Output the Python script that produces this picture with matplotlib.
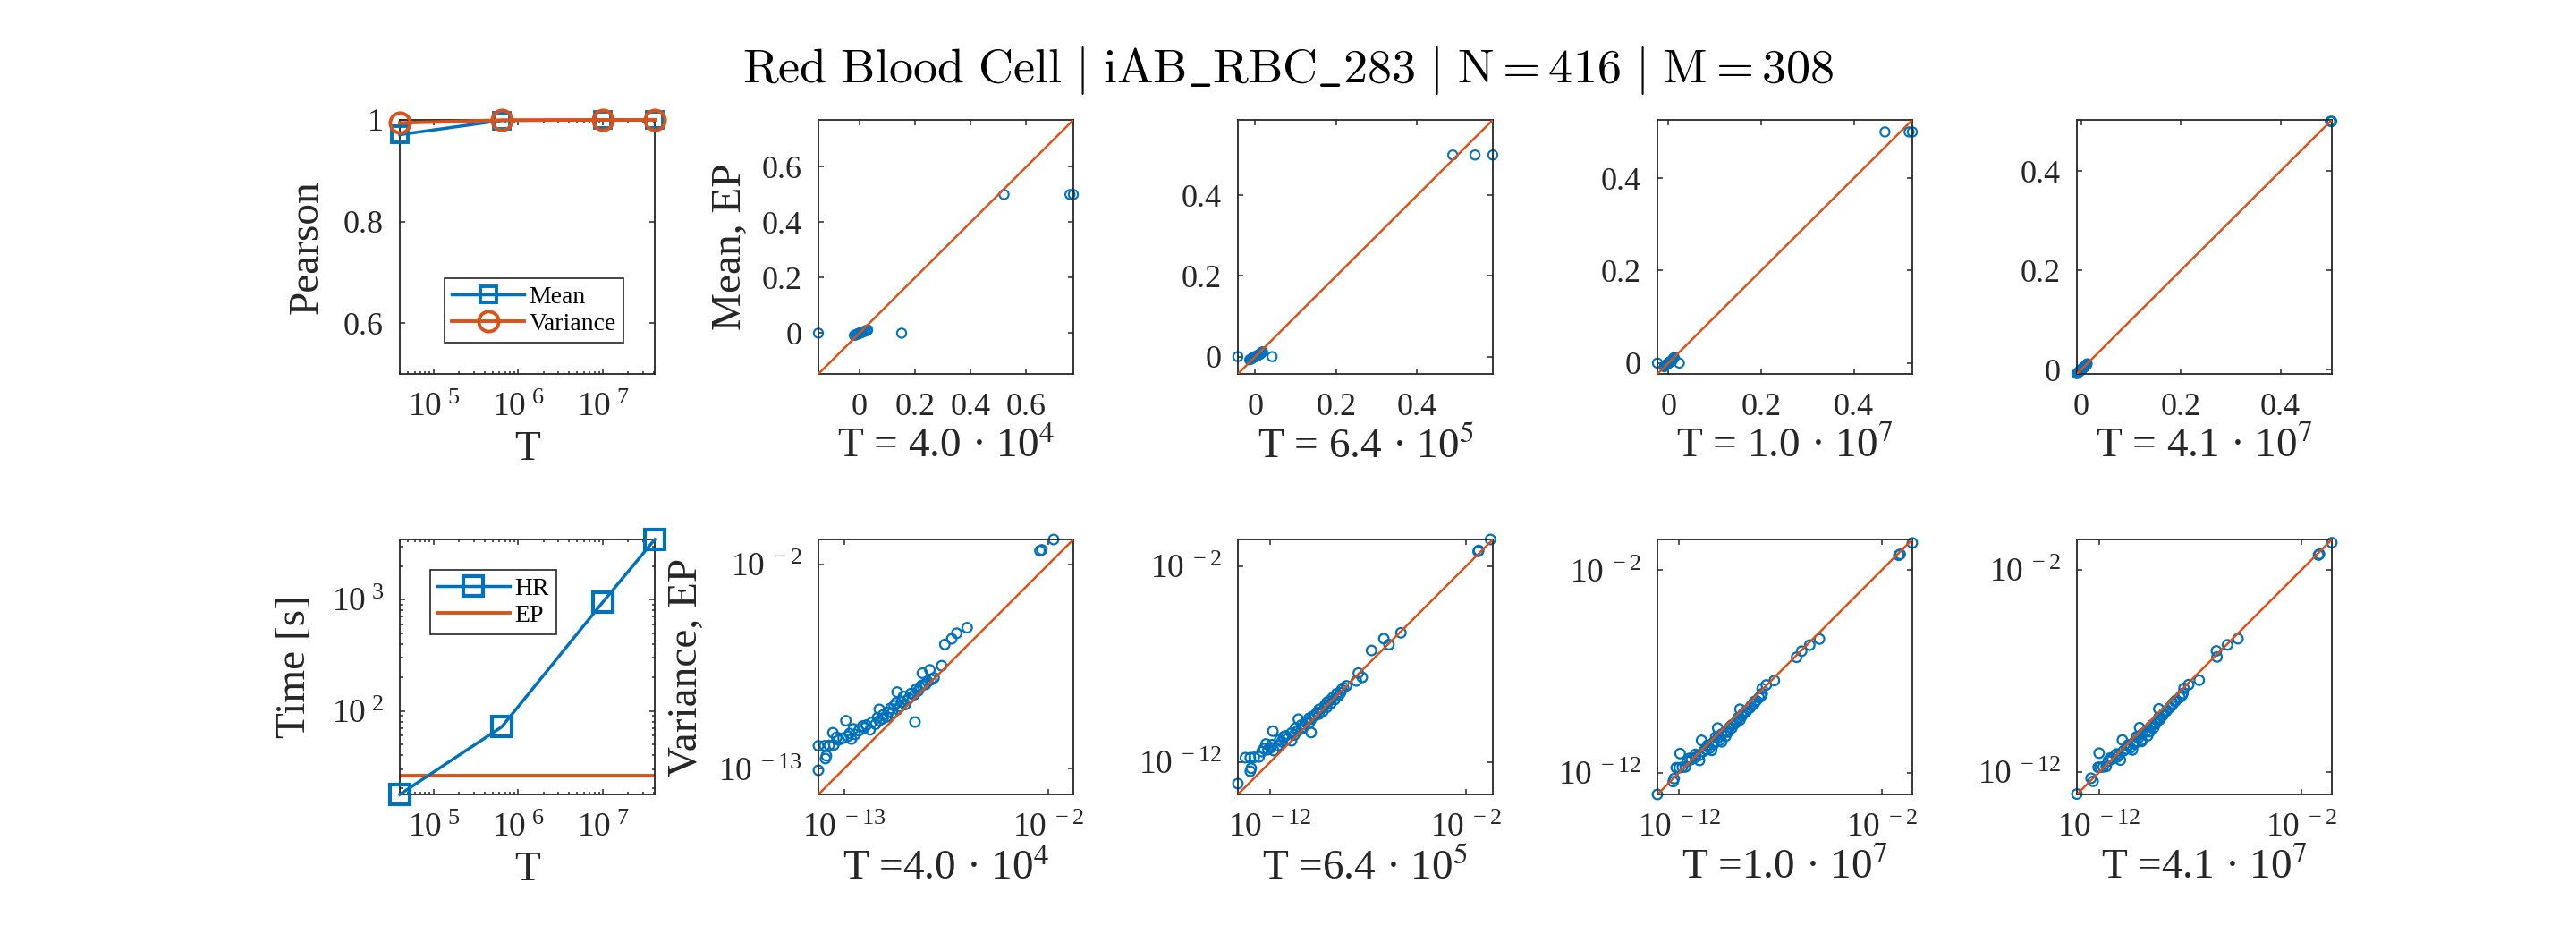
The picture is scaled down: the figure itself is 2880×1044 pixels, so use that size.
import numpy as np
import matplotlib
matplotlib.use('Agg')
import matplotlib.pyplot as plt
from matplotlib.ticker import FixedLocator, NullLocator, LogLocator, FuncFormatter, NullFormatter

plt.rcParams['font.family'] = ['Liberation Serif', 'DejaVu Serif']
plt.rcParams['mathtext.fontset'] = 'stix'
plt.rcParams['axes.unicode_minus'] = False

BLUE = '#0072BD'
ORANGE = '#D95319'
DARK = '#262626'

# sample sizes used by the hit-and-run sampler
T = [4.0e4, 6.4e5, 1.0e7, 4.1e7]

# Pearson correlation HR vs EP
pearson_mean = [0.971, 0.999, 1.0, 1.0]
pearson_var = [0.994, 0.9995, 1.0, 1.0]

# running times [s]
time_hr = [17.7, 71.7, 951.0, 3475.0]
time_ep = 25.9

# means: EP (y) and HR for every T (x)
ep_mean = [0.5, 0.5, 0.5, 0.0, 0.0, 0.0, 0.002, -0.002, 0.004, -0.004,
           0.006, -0.006, 0.008, 0.01, 0.012, -0.008, 0.003, -0.003, 0.0]
hr_mean_40k = [0.52, 0.757, 0.769, -0.147, 0.152, 0.0, 0.006, -0.004, 0.012, -0.01,
               0.018, -0.012, 0.022, 0.028, 0.03, -0.018, 0.008, -0.006, 0.004]
hr_mean_640k = [0.488, 0.543, 0.587, -0.043, 0.0415, 0.0, 0.004, -0.004, 0.008, -0.008,
                0.012, -0.01, 0.014, 0.016, 0.018, -0.014, 0.006, -0.005, 0.002]
hr_mean_10m = [0.467, 0.519, 0.526, -0.0235, 0.0237, 0.0, 0.003, -0.002, 0.006, -0.005,
               0.008, -0.007, 0.01, 0.011, 0.013, -0.009, 0.004, -0.003, 0.001]
hr_mean_41m = [0.5, 0.502, 0.503, 0.0, 0.001, 0.0, 0.002, -0.002, 0.005, -0.004,
               0.007, -0.006, 0.009, 0.011, 0.012, -0.0085, 0.003, -0.003, 0.001]

# variances (log10): EP (y) and HR for every T (x)
ep_var_log = [-13.08, -12.45, -12.3,
              -11.76, -11.76, -11.74, -11.72, -11.06, -11.45, -11.35, -11.25, -11.4, -11.15,
              -10.95, -10.41, -10.8, -10.9, -10.6, -10.4, -9.8, -10.2, -10.0, -10.48,
              -9.8, -9.6, -9.54, -9.4, -9.2, -8.87, -9.0, -8.8, -8.6, -8.45,
              -8.3, -8.2, -8.1, -10.7, -10.3,
              -11.3, -11.1, -10.85, -10.65, -10.5, -10.25, -10.1, -9.95,
              -9.75, -9.65, -9.45, -9.3, -9.1, -8.95, -8.7, -8.5,
              -7.85, -7.67, -7.45, -6.3, -6.0, -5.7, -5.4, -1.26, -1.21, -0.65]
hr_var_log_40k = [-14.38, -14.0, -13.95,
                  -14.38, -14.05, -13.8, -13.55, -13.6, -13.3, -13.05, -12.8, -12.6, -12.4,
                  -12.2, -12.9, -11.9, -11.6, -11.3, -11.1, -11.1, -10.7, -10.4, -9.18,
                  -10.1, -10.3, -9.7, -9.9, -9.5, -10.14, -9.2, -9.0, -8.9, -8.6,
                  -8.5, -8.3, -8.15, -12.0, -10.9,
                  -13.4, -12.7, -12.5, -11.8, -11.5, -11.2, -10.9, -10.6,
                  -10.5, -10.0, -10.2, -9.6, -9.8, -9.4, -9.1, -8.8,
                  -8.78, -8.38, -7.74, -7.57, -7.2, -6.93, -6.37, -2.45, -2.35, -1.71]
hr_var_log_640k = [-13.63, -13.0, -12.95,
                   -13.25, -13.0, -12.8, -12.55, -12.2, -12.4, -12.1, -11.95, -11.8, -11.6,
                   -11.4, -11.85, -11.1, -10.9, -10.75, -10.6, -10.55, -10.3, -10.0, -9.9,
                   -9.9, -9.7, -9.5, -9.3, -9.1, -9.0, -8.9, -8.7, -8.5, -8.4,
                   -8.35, -8.25, -8.1, -11.3, -10.4,
                   -12.3, -11.9, -11.5, -11.2, -10.9, -10.7, -10.4, -10.2,
                   -10.0, -9.8, -9.6, -9.5, -9.2, -9.1, -8.8, -8.6,
                   -7.6, -7.3, -7.5, -6.83, -5.94, -6.2, -5.33, -1.4, -1.37, -0.77]
hr_var_log_10m = [-13.08, -12.3, -12.25,
                  -12.15, -12.0, -11.85, -11.7, -11.96, -11.6, -11.4, -11.2, -11.0, -11.0,
                  -10.8, -10.9, -10.5, -10.4, -10.3, -10.0, -10.1, -9.7, -9.6, -9.9,
                  -9.4, -9.3, -9.2, -9.0, -8.9, -9.0, -8.7, -8.5, -8.3, -8.2,
                  -8.05, -7.95, -7.9, -10.6, -10.1,
                  -11.5, -11.2, -10.7, -10.6, -10.3, -10.2, -9.9, -9.7,
                  -9.5, -9.4, -9.15, -9.1, -8.85, -8.7, -8.45, -8.3,
                  -7.9, -7.7, -7.3, -6.2, -5.95, -5.55, -5.07, -1.15, -1.08, -0.48]
hr_var_log_41m = [-13.1, -12.3, -12.4,
                  -12.05, -11.95, -11.8, -11.65, -12.0, -11.55, -11.35, -11.1, -10.95, -11.05,
                  -10.8, -10.85, -10.45, -10.35, -10.25, -9.9, -10.0, -9.6, -9.5, -9.9,
                  -9.3, -9.2, -9.2, -9.0, -8.85, -9.05, -8.7, -8.5, -8.35, -8.2,
                  -8.0, -7.9, -7.85, -10.6, -10.05,
                  -11.45, -11.15, -10.65, -10.55, -10.25, -10.15, -9.85, -9.65,
                  -9.45, -9.35, -9.1, -9.05, -8.8, -8.65, -8.4, -8.25,
                  -7.8, -7.57, -7.05, -6.17, -6.2, -5.65, -5.13, -1.15, -1.1, -0.49]

hr_means = [hr_mean_40k, hr_mean_640k, hr_mean_10m, hr_mean_41m]
hr_vars_log = [hr_var_log_40k, hr_var_log_640k, hr_var_log_10m, hr_var_log_41m]
var_tick_exp = [(-13, -2), (-12, -2), (-12, -2), (-12, -2)]

TICK_FS = 26
LOG_TICK_FS = 27
LABEL_FS = 34
LEGEND_FS = 20

W, H = 2880, 1044
fig = plt.figure(figsize=(W / 100, H / 100), dpi=100)

col_left = [447, 915, 1384, 1853, 2322]
ax_w = 285
top_row = (134, 418)
bot_row = (603, 888)


def make_ax(col, row):
    y0, y1 = row
    ax = fig.add_axes([col_left[col] / W, 1 - y1 / H, ax_w / W, (y1 - y0) / H])
    for s in ax.spines.values():
        s.set_color(DARK)
        s.set_linewidth(1.3)
    ax.tick_params(which='both', direction='in', top=True, right=True,
                   colors=DARK, labelsize=TICK_FS, width=1.1)
    ax.tick_params(axis='x', which='both', pad=15)
    ax.tick_params(axis='y', which='both', pad=13)
    ax.tick_params(which='major', length=4)
    ax.tick_params(which='minor', length=2.5)
    return ax


def pow_fmt(v, pos):
    return r'$\mathregular{10^{\ %d}}$' % int(round(np.log10(v)))


def t_label(t, sep):
    e = int(np.floor(np.log10(t)))
    return 'T %s%.1f · 10$^{%d}$' % (sep, t / 10 ** e, e)


def style_legend(leg):
    leg.get_frame().set_linewidth(1.2)
    leg.get_frame().set_edgecolor(DARK)


# Pearson panel
ax = make_ax(0, top_row)
ax.plot(T, pearson_mean, '-s', color=BLUE, lw=2.5, ms=13, mew=2.8, mfc='none',
        label='Mean', clip_on=False, zorder=3)
ax.plot(T, pearson_var, '-o', color=ORANGE, lw=2.8, ms=16, mew=2.8, mfc='none',
        label='Variance', clip_on=False, zorder=4)
ax.set_xscale('log')
ax.set_xlim(T[0], T[-1])
ax.set_ylim(0.5, 1.0)
ax.xaxis.set_major_locator(FixedLocator([1e5, 1e6, 1e7]))
ax.xaxis.set_major_formatter(FuncFormatter(pow_fmt))
ax.xaxis.set_minor_locator(LogLocator(base=10, subs=np.arange(2, 10)))
ax.xaxis.set_minor_formatter(NullFormatter())
ax.tick_params(axis='x', labelsize=LOG_TICK_FS)
ax.yaxis.set_major_locator(FixedLocator([0.6, 0.8, 1.0]))
ax.yaxis.set_major_formatter(FuncFormatter(lambda v, p: '%g' % v))
ax.set_xlabel('T', fontsize=LABEL_FS, color=DARK, labelpad=6)
ax.set_ylabel('Pearson', fontsize=LABEL_FS, color=DARK, labelpad=14)
leg = ax.legend(loc='lower right', bbox_to_anchor=(0.926, 0.074), fontsize=LEGEND_FS,
                fancybox=False, framealpha=1, handlelength=2.9,
                borderpad=0.3, labelspacing=0.15, handletextpad=0.2)
style_legend(leg)

# running time panel
ax = make_ax(0, bot_row)
ax.plot(T, time_hr, '-s', color=BLUE, lw=2.5, ms=16, mew=3, mfc='none',
        label='HR', clip_on=False, zorder=3)
ax.axhline(time_ep, color=ORANGE, lw=2.8, label='EP', zorder=2)
ax.set_xscale('log')
ax.set_yscale('log')
ax.set_xlim(T[0], T[-1])
ax.set_ylim(min(time_hr), max(time_hr))
ax.xaxis.set_major_locator(FixedLocator([1e5, 1e6, 1e7]))
ax.xaxis.set_major_formatter(FuncFormatter(pow_fmt))
ax.xaxis.set_minor_locator(LogLocator(base=10, subs=np.arange(2, 10)))
ax.xaxis.set_minor_formatter(NullFormatter())
ax.yaxis.set_major_locator(FixedLocator([1e2, 1e3]))
ax.yaxis.set_major_formatter(FuncFormatter(pow_fmt))
ax.yaxis.set_minor_locator(LogLocator(base=10, subs=np.arange(2, 10)))
ax.yaxis.set_minor_formatter(NullFormatter())
ax.tick_params(labelsize=LOG_TICK_FS)
ax.set_xlabel('T', fontsize=LABEL_FS, color=DARK, labelpad=6)
ax.set_ylabel('Time [s]', fontsize=LABEL_FS, color=DARK, labelpad=14)
leg = ax.legend(loc='upper left', bbox_to_anchor=(0.07, 0.929), fontsize=LEGEND_FS,
                fancybox=False, framealpha=1, handlelength=2.9,
                borderpad=0.3, labelspacing=0.15, handletextpad=0.2)
style_legend(leg)

# scatter panels
for i, t in enumerate(T):
    # means
    ax = make_ax(i + 1, top_row)
    x = np.array(hr_means[i])
    y = np.array(ep_mean)
    lo = min(x.min(), y.min())
    hi = max(x.max(), y.max())
    ax.scatter(x, y, s=55, facecolors='none', edgecolors=BLUE, linewidths=1.5,
               clip_on=False, zorder=2)
    ax.plot([lo, hi], [lo, hi], color=ORANGE, lw=1.8, zorder=3)
    ax.set_xlim(lo, hi)
    ax.set_ylim(lo, hi)
    ticks = [v for v in [0, 0.2, 0.4, 0.6] if lo <= v <= hi]
    ax.xaxis.set_major_locator(FixedLocator(ticks))
    ax.yaxis.set_major_locator(FixedLocator(ticks))
    ax.xaxis.set_major_formatter(FuncFormatter(lambda v, p: '%g' % v))
    ax.yaxis.set_major_formatter(FuncFormatter(lambda v, p: '%g' % v))
    ax.set_xlabel(t_label(t, '= '), fontsize=LABEL_FS, color=DARK, labelpad=4)
    if i == 0:
        ax.set_ylabel('Mean, EP', fontsize=LABEL_FS, color=DARK, labelpad=10)

    # variances
    ax = make_ax(i + 1, bot_row)
    x = 10.0 ** np.array(hr_vars_log[i])
    y = 10.0 ** np.array(ep_var_log)
    lo = min(x.min(), y.min())
    hi = max(x.max(), y.max())
    ax.scatter(x, y, s=60, facecolors='none', edgecolors=BLUE, linewidths=1.6,
               clip_on=False, zorder=2)
    ax.plot([lo, hi], [lo, hi], color=ORANGE, lw=1.8, zorder=3)
    ax.set_xscale('log')
    ax.set_yscale('log')
    ax.set_xlim(lo, hi)
    ax.set_ylim(lo, hi)
    e0, e1 = var_tick_exp[i]
    ax.xaxis.set_major_locator(FixedLocator([10.0 ** e0, 10.0 ** e1]))
    ax.yaxis.set_major_locator(FixedLocator([10.0 ** e0, 10.0 ** e1]))
    ax.xaxis.set_minor_locator(NullLocator())
    ax.yaxis.set_minor_locator(NullLocator())
    ax.xaxis.set_major_formatter(FuncFormatter(pow_fmt))
    ax.yaxis.set_major_formatter(FuncFormatter(pow_fmt))
    ax.tick_params(labelsize=LOG_TICK_FS)
    ax.set_xlabel(t_label(t, '='), fontsize=LABEL_FS, color=DARK, labelpad=4)
    if i == 0:
        ax.set_ylabel('Variance, EP', fontsize=LABEL_FS, color=DARK, labelpad=10)

fig.text(0.5, 0.925,
         r'$\mathrm{Red\ Blood\ Cell}\ |\ \mathrm{iAB\_RBC\_283}\ |\ \mathrm{N}=416\ |\ \mathrm{M}=308$',
         ha='center', va='center', fontsize=39, math_fontfamily='cm', color='black')

fig.savefig('out.png', dpi=100)
